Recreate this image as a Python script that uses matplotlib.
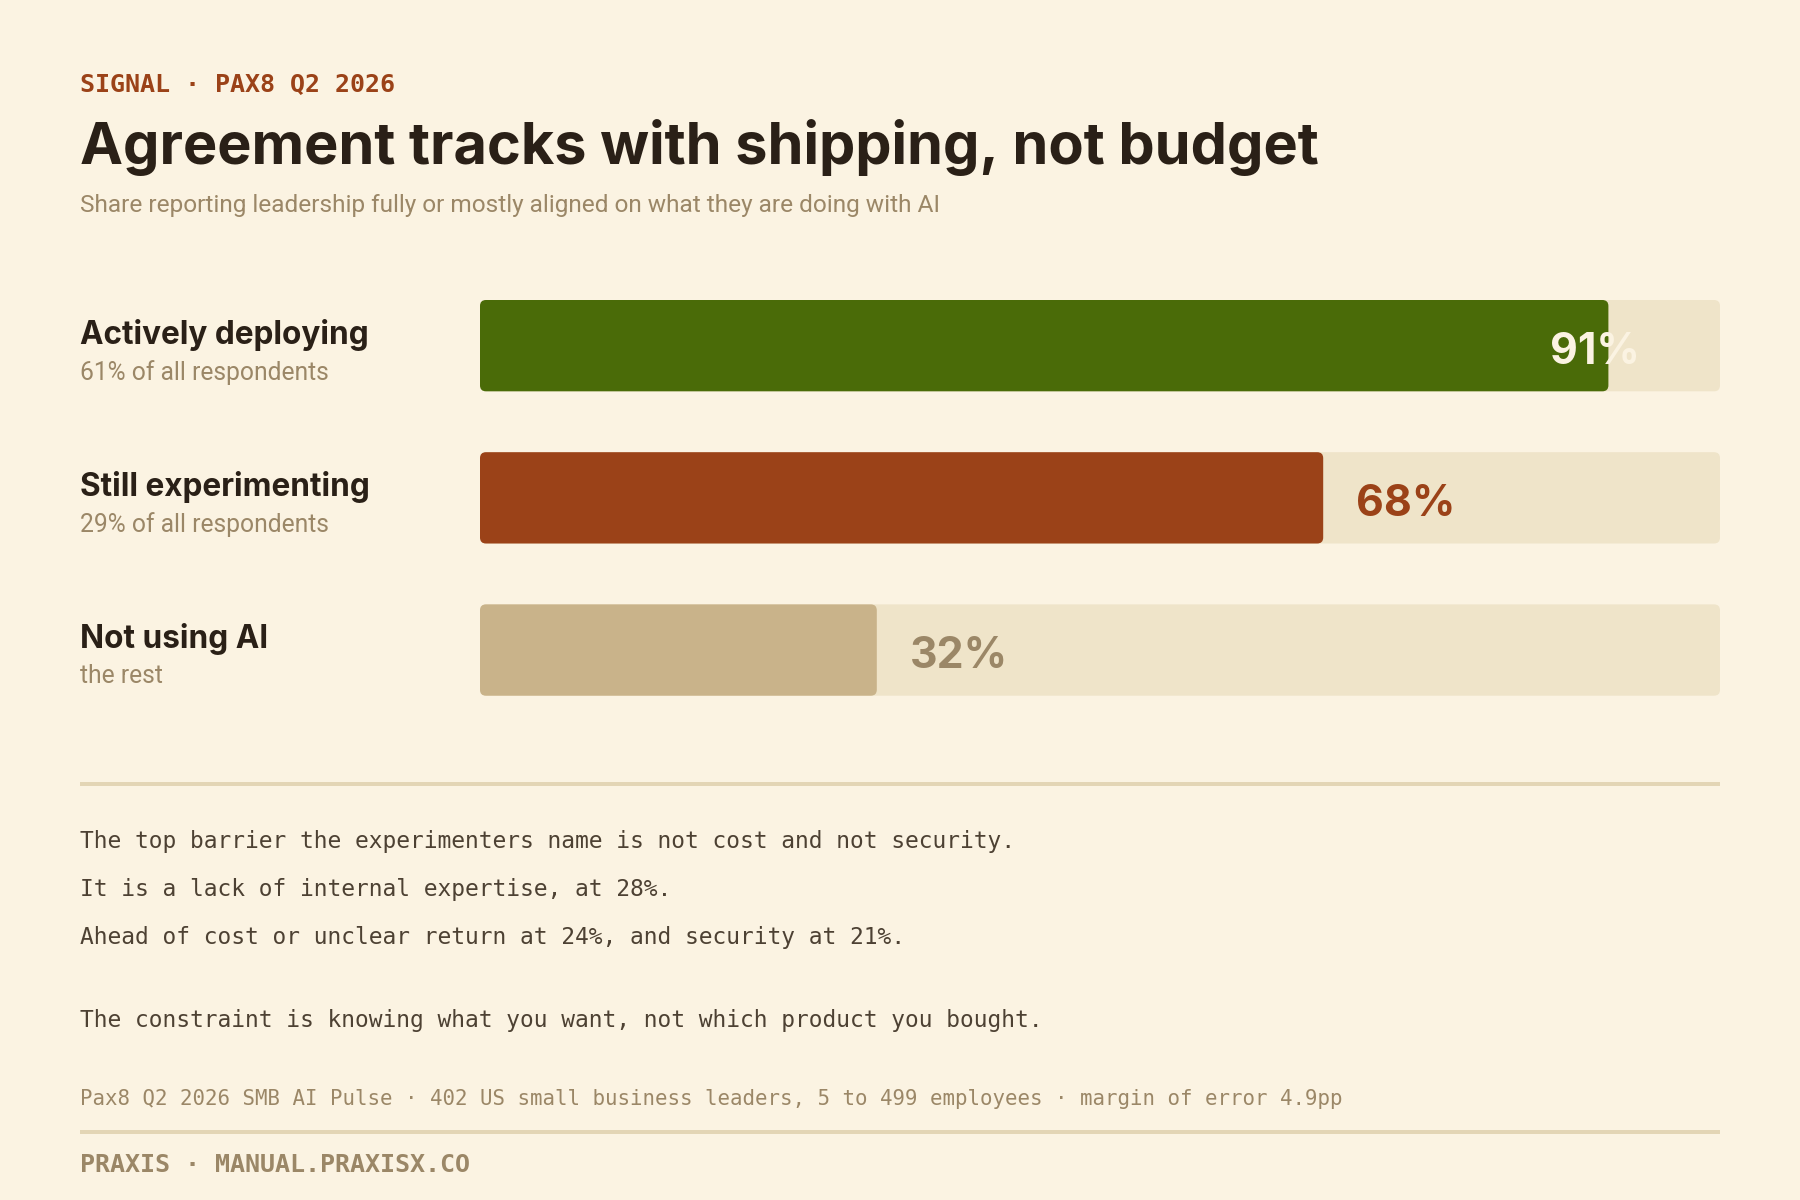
import matplotlib
matplotlib.use("Agg")
import matplotlib.pyplot as plt
from matplotlib.patches import FancyBboxPatch, BoxStyle

# ---------------- data ----------------
categories = ["Actively deploying", "Still experimenting", "Not using AI"]
sublabels = ["61% of all respondents", "29% of all respondents", "the rest"]
values = [91, 68, 32]
value_labels = ["91%", "68%", "32%"]

kicker = "SIGNAL · PAX8 Q2 2026"
title = "Agreement tracks with shipping, not budget"
subtitle = "Share reporting leadership fully or mostly aligned on what they are doing with AI"
body_lines = [
    "The top barrier the experimenters name is not cost and not security.",
    "It is a lack of internal expertise, at 28%.",
    "Ahead of cost or unclear return at 24%, and security at 21%.",
    "The constraint is knowing what you want, not which product you bought.",
]
footnote = "Pax8 Q2 2026 SMB AI Pulse · 402 US small business leaders, 5 to 499 employees · margin of error 4.9pp"
footer = "PRAXIS · MANUAL.PRAXISX.CO"

# ---------------- style ----------------
BG = "#fbf3e2"
TRACK = "#efe4c9"
BAR_COLORS = ["#4a6b08", "#9b4218", "#c9b38a"]
LABEL_COLORS = ["#fbf3e2", "#9b4218", "#9b8767"]
INK = "#2a2017"
MUTED = "#9b8767"
BODY = "#4d4133"
RULE = "#e3d5b5"
ACCENT = "#9b4218"

SANS_B = ["Inter", "DejaVu Sans"]
SANS = ["Roboto", "DejaVu Sans"]
MONO = ["DejaVu Sans Mono"]

W, H = 1800, 1200
fig = plt.figure(figsize=(18, 12), dpi=100, facecolor=BG)
renderer = fig.canvas.get_renderer()


def place(x, y, s, size, target_w=None, **kw):
    t = fig.text(x / W, 1 - y / H, s, fontsize=size, ha="left", va="baseline", **kw)
    if target_w:
        w = t.get_window_extent(renderer).width
        t.set_fontsize(size * target_w / w)
    return t


LEFT = 80

# header
place(LEFT, 92, kicker, 18, family=MONO, weight="bold", color=ACCENT)
place(LEFT, 164, title, 42, target_w=1240, family=SANS_B, weight="bold", color=INK)
place(LEFT, 212, subtitle, 18, target_w=861, family=SANS, color=MUTED)

# ---------------- bars ----------------
bar_left, bar_right = 480, 1720
bar_top, bar_bottom = 300, 695.7
ax = fig.add_axes([bar_left / W, 1 - bar_bottom / H,
                   (bar_right - bar_left) / W, (bar_bottom - bar_top) / H])
ax.set_facecolor("none")
n = len(values)
ypos = list(range(n))
bh = 0.6
ax.set_xlim(0, 100)
ax.set_ylim(n - 1 + 0.3, -0.3)
ax.axis("off")

tracks = ax.barh(ypos, [100] * n, height=bh, color=TRACK)
bars = ax.barh(ypos, values, height=bh, color=BAR_COLORS)

px_x = (bar_right - bar_left) / 100.0
px_y = (bar_bottom - bar_top) / (n - 1 + 0.6)
radius_px = 6
for container in (tracks, bars):
    for rect in container.patches:
        x0, y0 = rect.get_xy()
        fb = FancyBboxPatch((x0, y0), rect.get_width(), rect.get_height(),
                            boxstyle=BoxStyle.Round(pad=0, rounding_size=radius_px / px_x),
                            mutation_aspect=px_x / px_y,
                            facecolor=rect.get_facecolor(), edgecolor="none")
        rect.set_visible(False)
        ax.add_patch(fb)

# value labels
label_texts = []
for i, (v, lab) in enumerate(zip(values, value_labels)):
    inside = v > 85
    t = ax.annotate(lab, xy=(v, i), xytext=(31 if inside else 33, -18),
                    textcoords="offset pixels", ha="right" if inside else "left",
                    va="baseline", fontsize=40, family=SANS_B, weight="bold",
                    color=LABEL_COLORS[i])
    label_texts.append(t)
w68 = label_texts[1].get_window_extent(renderer).width
for t in label_texts:
    t.set_fontsize(40 * 99 / w68)

# category labels
cat_base = [344.3, 495.7, 648.3]
sub_base = [380, 531.7, 683.3]
t0 = place(LEFT, cat_base[0], categories[0], 23, target_w=288, family=SANS_B,
           weight="bold", color=INK)
cat_size = t0.get_fontsize()
for i in range(1, n):
    place(LEFT, cat_base[i], categories[i], cat_size, family=SANS_B, weight="bold", color=INK)
s0 = place(LEFT, sub_base[0], sublabels[0], 17, target_w=249, family=SANS, color=MUTED)
sub_size = s0.get_fontsize()
for i in range(1, n):
    place(LEFT, sub_base[i], sublabels[i], sub_size, family=SANS, color=MUTED)

# rules
for yy in (784, 1132):
    fig.add_artist(plt.Line2D([LEFT / W, 1720 / W], [1 - yy / H, 1 - yy / H],
                              color=RULE, lw=4 * 0.72, solid_capstyle="butt"))

# body text
body_base = [847.7, 896, 944, 1027.3]
b0 = place(LEFT, body_base[0], body_lines[0], 16, target_w=937, family=MONO, color=BODY)
body_size = b0.get_fontsize()
for yy, line in zip(body_base[1:], body_lines[1:]):
    place(LEFT, yy, line, body_size, family=MONO, color=BODY)

place(LEFT, 1105, footnote, 15, target_w=1272, family=MONO, color=MUTED)
place(LEFT, 1172, footer, 18, family=MONO, weight="bold", color=MUTED)

fig.savefig("out.png", dpi=100, facecolor=BG)
